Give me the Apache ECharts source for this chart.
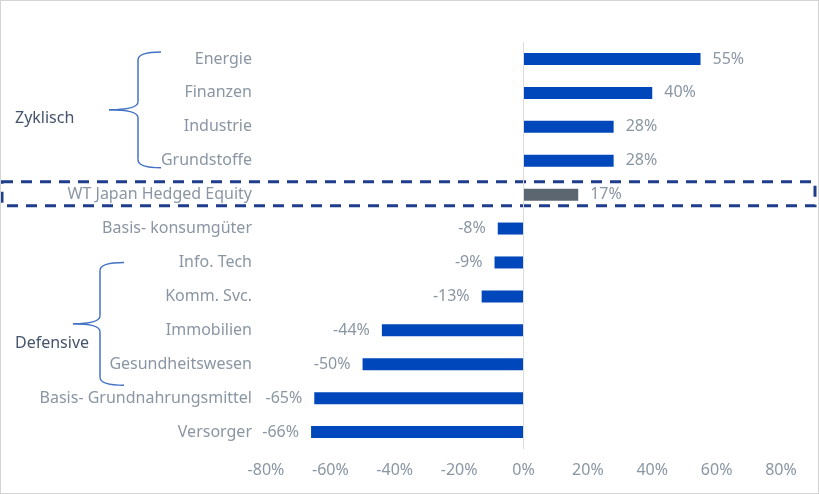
<!DOCTYPE html>
<html><head><meta charset="utf-8">
<script src="https://cdn.jsdelivr.net/npm/echarts@6/dist/echarts.min.js"></script>
<style>html,body{margin:0;padding:0;background:#fff}#c{width:817px;height:492px;border:1px solid #d4d4d4}</style>
</head><body><div id="c"></div>
<script>
const categories = ["Energie","Finanzen","Industrie","Grundstoffe","WT Japan Hedged Equity","Basis- konsumgüter","Info. Tech","Komm. Svc.","Immobilien","Gesundheitswesen","Basis- Grundnahrungsmittel","Versorger"];
const values = [55,40,28,28,17,-8,-9,-13,-44,-50,-65,-66];
const highlightIndex = 4;
const groupLabels = ["Zyklisch","Defensive"];
const xTicks = [-80,-60,-40,-20,0,20,40,60,80];

const FONT = "Noto Sans";
const LABEL_COLOR = "#8a96a3";
const chart = echarts.init(document.getElementById('c'));
chart.setOption({
  animation:false,
  grid:{left:265,right:37,top:41,bottom:44,containLabel:false},
  xAxis:{type:'value',min:xTicks[0],max:xTicks[xTicks.length-1],interval:20,
    axisLine:{show:false},axisTick:{show:false},splitLine:{show:false},
    axisLabel:{formatter:v=>v+'%',color:LABEL_COLOR,fontFamily:FONT,fontSize:16,margin:13}},
  yAxis:{type:'category',data:categories,inverse:true,
    axisLine:{show:false},axisTick:{show:false},
    axisLabel:{color:LABEL_COLOR,fontFamily:FONT,fontSize:16,margin:14}},
  series:[{type:'bar',barWidth:12,
    data:values.map((v,i)=>({value:v,itemStyle:{color:i===highlightIndex?'#5b6670':'#0047bb'},
      label:{position:v>=0?'right':'left'}})),
    label:{show:true,formatter:p=>p.value+'%',color:LABEL_COLOR,fontFamily:FONT,fontSize:16,distance:12},
    markLine:{silent:true,symbol:'none',label:{show:false},lineStyle:{color:'#dcdcdc',type:'solid',width:1},
      data:[{xAxis:0}]}
  }]
});

function py(i){return chart.convertToPixel({yAxisIndex:0},categories[i]);}
const BRACE_STYLE={fill:null,stroke:'#4472c4',lineWidth:1.5};
function brace(xEnd,xV,xTip,top,mid,bottom){
  const r=8;
  const curve=(x1,y1,x2,y2,cx,cy)=>({type:'bezierCurve',shape:{x1,y1,x2,y2,cpx1:cx,cpy1:cy},style:BRACE_STYLE});
  const line=(x1,y1,x2,y2)=>({type:'line',shape:{x1,y1,x2,y2},style:BRACE_STYLE});
  return [
    curve(xEnd,top,xV,top+r,xV,top),
    line(xV,top+r,xV,mid-r),
    curve(xV,mid-r,xTip,mid,xV,mid),
    curve(xTip,mid,xV,mid+r,xV,mid),
    line(xV,mid+r,xV,bottom-r),
    curve(xV,bottom-r,xEnd,bottom,xV,bottom)
  ];
}
const yTop1=py(0)-7, yBot1=py(3)+7, yMid1=(yTop1+yBot1)/2;
const yTop2=py(6), yBot2=py(9)+21, yMid2=(yTop2+yBot2)/2;
const yHi=py(highlightIndex);
chart.setOption({graphic:[
  ...brace(160,137,108,yTop1,yMid1,yBot1),
  ...brace(123,99,72,yTop2,yMid2,yBot2),
  {type:'text',left:14,top:yMid1+1,style:{text:groupLabels[0],fill:'#44546a',font:'16px "Noto Sans"'}},
  {type:'text',left:14,top:yMid2+12,style:{text:groupLabels[1],fill:'#44546a',font:'16px "Noto Sans"'}},
  {type:'rect',shape:{x:1,y:yHi-13,width:813,height:24},style:{fill:null,stroke:'#1f3d8c',lineWidth:3,lineDash:[11,8]}}
]});
</script></body></html>
